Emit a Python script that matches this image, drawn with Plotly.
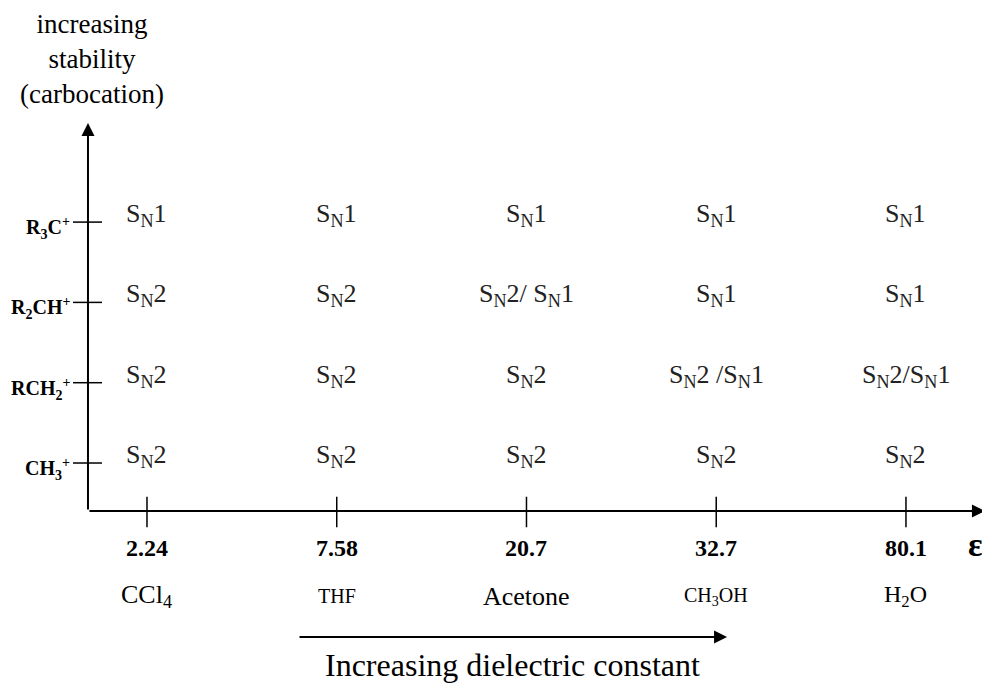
import plotly.graph_objects as go

# solvents along the x axis (dielectric constant)
solvents = ["CCl<sub>4</sub>", "THF", "Acetone", "CH<sub>3</sub>OH", "H<sub>2</sub>O"]
solvent_sizes = [26, 20, 26, 20, 24]
epsilons = ["2.24", "7.58", "20.7", "32.7", "80.1"]

# carbocations along the y axis, bottom to top
carbocations = ["CH<sub>3</sub><sup>+</sup>", "RCH<sub>2</sub><sup>+</sup>",
                "R<sub>2</sub>CH<sup>+</sup>", "R<sub>3</sub>C<sup>+</sup>"]

SN1 = "S<sub>N</sub>1"
SN2 = "S<sub>N</sub>2"
mech_ch3 = [SN2, SN2, SN2, SN2, SN2]
mech_rch2 = [SN2, SN2, SN2, SN2 + " /" + SN1, SN2 + "/" + SN1]
mech_r2ch = [SN2, SN2, SN2 + "/ " + SN1, SN1, SN1]
mech_r3c = [SN1, SN1, SN1, SN1, SN1]
mechanisms = [mech_ch3, mech_rch2, mech_r2ch, mech_r3c]

FONT = "Liberation Serif, Times New Roman, serif"
INK = "black"

x_pos = list(range(len(solvents)))
y_pos = list(range(len(carbocations)))

# where the two axes sit, in data units
x0 = -0.311
y0 = -0.598
x_end = 4.416
y_end = 4.234

fig = go.Figure()
annotations = []
shapes = []

# y axis with arrow
annotations.append(dict(x=x0, y=y_end, ax=x0, ay=y0, xref="x", yref="y", axref="x", ayref="y",
                        showarrow=True, arrowhead=2, arrowsize=1.3, arrowwidth=2, arrowcolor=INK, text=""))
# x axis with arrow
annotations.append(dict(x=x_end, y=y0, ax=x0, ay=y0, xref="x", yref="y", axref="x", ayref="y",
                        showarrow=True, arrowhead=2, arrowsize=1.3, arrowwidth=2, arrowcolor=INK, text=""))

# x ticks, epsilon values and solvent names
for i in x_pos:
    shapes.append(dict(type="line", x0=i, x1=i, y0=-0.42, y1=-0.80, xref="x", yref="y",
                       line=dict(color=INK, width=1.5)))
    annotations.append(dict(x=i, y=-1.06, text="<b>" + epsilons[i] + "</b>", showarrow=False,
                            font=dict(family=FONT, size=24, color=INK)))
    annotations.append(dict(x=i, y=-1.66, text=solvents[i], showarrow=False,
                            font=dict(family=FONT, size=solvent_sizes[i], color=INK)))

annotations.append(dict(x=4.364, y=-1.02, text="<b>ε</b>", showarrow=False,
                        font=dict(family=FONT, size=34, color=INK)))

# y ticks and carbocation labels
for j in y_pos:
    shapes.append(dict(type="line", x0=-0.39, x1=-0.237, y0=j, y1=j, xref="x", yref="y",
                       line=dict(color=INK, width=1.5)))
    annotations.append(dict(x=-0.395, y=j, yshift=-6, text="<b>" + carbocations[j] + "</b>",
                            showarrow=False, xanchor="right",
                            font=dict(family=FONT, size=20, color=INK)))

# mechanism grid
for j in y_pos:
    for i in x_pos:
        annotations.append(dict(x=i, y=j, yshift=7, text=mechanisms[j][i], showarrow=False,
                                font=dict(family=FONT, size=26, color="#222222")))

# y axis title
annotations.append(dict(x=-0.29, y=5.03, text="increasing<br>stability<br>(carbocation)",
                        showarrow=False, font=dict(family=FONT, size=27, color=INK)))

# bottom arrow and caption
annotations.append(dict(x=3.057, y=-2.167, ax=0.796, ay=-2.167, xref="x", yref="y", axref="x", ayref="y",
                        showarrow=True, arrowhead=2, arrowsize=1.3, arrowwidth=2, arrowcolor=INK, text=""))
annotations.append(dict(x=1.924, y=-2.516, text="Increasing dielectric constant", showarrow=False,
                        font=dict(family=FONT, size=32, color=INK)))

# ranges account for the 8px page margin around the figure
fig.update_layout(
    width=990,
    height=685,
    margin=dict(l=0, r=0, t=0, b=0),
    paper_bgcolor="white",
    plot_bgcolor="white",
    showlegend=False,
    xaxis=dict(range=[-0.7325, 4.485], visible=False, fixedrange=True),
    yaxis=dict(range=[-2.864, 5.666], visible=False, fixedrange=True),
    annotations=annotations,
    shapes=shapes,
)

fig.write_html("out.html")
